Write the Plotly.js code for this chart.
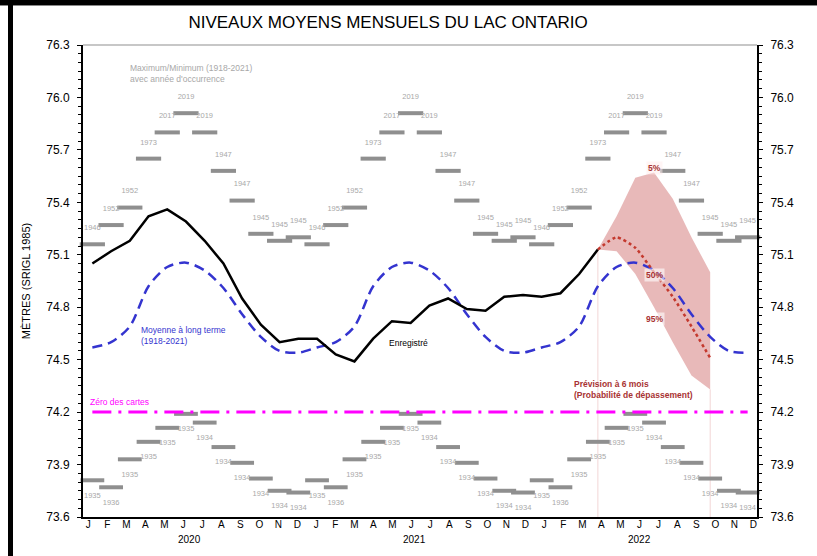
<!DOCTYPE html>
<html>
<head>
<meta charset="utf-8">
<script src="https://cdn.plot.ly/plotly-3.0.1.min.js"></script>
<style>
  html, body { margin: 0; padding: 0; background: #fff; }
  #wrap { position: relative; width: 817px; height: 556px; overflow: hidden; }
  #chart { position: absolute; left: 0; top: 0; width: 817px; height: 556px; }
  .topbar { position: absolute; left: 0; top: 0; width: 817px; height: 5px; background: #000; z-index: 5; }
  .topline { position: absolute; left: 0; top: 5px; width: 817px; height: 1px; background: #888; z-index: 5; }
  .leftbar { position: absolute; left: 8px; top: 0; width: 5px; height: 556px; background: #000; z-index: 5; }
</style>
</head>
<body>
<div id="wrap">
  <div id="chart"></div>
  <div class="topbar"></div>
  <div class="topline"></div>
  <div class="leftbar"></div>
</div>
<script>
// ---------------- DATA ----------------
const monthLetters = ['J','F','M','A','M','J','J','A','S','O','N','D'];
const years = ['2020','2021','2022'];

// Recorded monthly mean level (m), Jan 2020 .. Apr 2022
const recorded = [
  75.05, 75.12, 75.18, 75.32, 75.36, 75.29, 75.18, 75.05, 74.85, 74.70, 74.60, 74.62,
  74.62, 74.53, 74.49, 74.62, 74.72, 74.71, 74.81, 74.85, 74.79, 74.78, 74.86, 74.87,
  74.86, 74.88, 74.99, 75.13
];

// Long-term mean (1918-2021), Jan..Dec
const longTermMean = [74.57, 74.60, 74.69, 74.92, 75.03, 75.055, 75.01, 74.91, 74.76, 74.63, 74.55, 74.54];

// Maximum / minimum (1918-2021) with year of occurrence, Jan..Dec
const maxLevel = [75.16, 75.27, 75.37, 75.65, 75.80, 75.91, 75.80, 75.58, 75.41, 75.22, 75.18, 75.20];
const maxYear  = ['1946','1952','1952','1973','2017','2019','2019','1947','1947','1945','1945','1945'];
const minLevel = [73.81, 73.77, 73.93, 74.03, 74.11, 74.19, 74.14, 74.00, 73.91, 73.82, 73.75, 73.74];
const minYear  = ['1935','1936','1935','1935','1935','1935','1934','1934','1934','1934','1934','1934'];

// 6-month forecast (exceedance probability), Apr 2022 .. Oct 2022
const forecastMonths = ['2022-04','2022-05','2022-06','2022-07','2022-08','2022-09','2022-10'];
const forecast5  = [75.13, 75.32, 75.54, 75.57, 75.42, 75.20, 75.00];
const forecast50 = [75.13, 75.20, 75.14, 75.00, 74.86, 74.69, 74.51];
const forecast95 = [75.13, 75.12, 74.99, 74.80, 74.60, 74.41, 74.33];

// Chart datum
const chartDatum = 74.2;

// ---------------- BUILD ----------------
const monthKeys = [];
years.forEach(y => { for (let m = 1; m <= 12; m++) monthKeys.push(y + '-' + String(m).padStart(2, '0')); });
const idx = monthKeys.map((_, i) => i);
const fIdx = forecastMonths.map(k => monthKeys.indexOf(k));
const yMin = 73.6, yMax = 76.3;

const rep = arr => years.flatMap(() => arr);

const grayBar = '#8f8f8f';
const grayTxt = '#a8a8a8';
const font = 'Liberation Sans, Arial, sans-serif';

const traces = [];

// forecast band
traces.push({ x: fIdx, y: forecast95, mode: 'lines', line: { width: 0, color: 'rgba(0,0,0,0)' },
  hoverinfo: 'skip', showlegend: false });
traces.push({ x: fIdx, y: forecast5, mode: 'lines', line: { width: 0, color: 'rgba(0,0,0,0)' },
  fill: 'tonexty', fillcolor: 'rgba(214,128,128,0.55)', hoverinfo: 'skip', showlegend: false });

// faint vertical lines at the start / end of the forecast period
const first = 0, last = fIdx.length - 1;
traces.push({ x: [fIdx[first], fIdx[first], null, fIdx[last], fIdx[last]],
  y: [forecast95[first], yMin, null, forecast95[last], yMin],
  mode: 'lines', line: { color: '#f2d6d6', width: 1 }, hoverinfo: 'skip', showlegend: false });

// long-term mean
traces.push({ x: idx, y: rep(longTermMean), mode: 'lines',
  line: { color: '#3434cf', width: 2.5, dash: '10px,6px', shape: 'spline', smoothing: 0.8 },
  showlegend: false });

// recorded
traces.push({ x: idx.slice(0, recorded.length), y: recorded, mode: 'lines',
  line: { color: '#000', width: 2.5 }, showlegend: false });

// 50% forecast
traces.push({ x: fIdx, y: forecast50, mode: 'lines',
  line: { color: '#c4392e', width: 2.5, dash: 'dot', shape: 'spline', smoothing: 0.6 }, showlegend: false });

// max / min bars with years
traces.push({ x: idx, y: rep(maxLevel), mode: 'markers+text', text: rep(maxYear),
  textposition: 'top center', textfont: { size: 7.5, color: grayTxt, family: font },
  marker: { symbol: 'line-ew', size: 18, line: { width: 4, color: grayBar } },
  cliponaxis: false, showlegend: false });
traces.push({ x: idx, y: rep(minLevel), mode: 'markers+text', text: rep(minYear),
  textposition: 'bottom center', textfont: { size: 7.5, color: grayTxt, family: font },
  marker: { symbol: 'line-ew', size: 17, line: { width: 4, color: grayBar } },
  cliponaxis: false, showlegend: false });

// chart datum
traces.push({ x: [idx[0], idx[idx.length - 1]], y: [chartDatum, chartDatum], mode: 'lines',
  line: { color: '#ff00ff', width: 3, dash: '19px,7px,3px,7px' }, showlegend: false });

// invisible trace on the secondary axes (right value axis, month-label axis)
traces.push({ x: [idx[0]], y: [yMin], xaxis: 'x2', yaxis: 'y2', mode: 'markers', marker: { opacity: 0 },
  hoverinfo: 'skip', showlegend: false });

const yAxisCommon = {
  range: [yMin, yMax], tick0: yMin, dtick: 0.3, tickformat: '.1f',
  ticks: 'outside', ticklen: 4, tickwidth: 1, tickcolor: '#000',
  showline: true, linecolor: '#000', linewidth: 2,
  showgrid: false, zeroline: false,
  tickfont: { size: 12, color: '#000', family: font },
  minor: { dtick: 0.05, tick0: yMin, ticks: 'outside', ticklen: 3, tickcolor: '#000', tickwidth: 1, showgrid: false },
  ticklabelstandoff: 5
};

const annotations = [
  { x: 1.92, y: 76.138, xref: 'x', yref: 'y', xanchor: 'left', yanchor: 'middle', align: 'left',
    text: 'Maximum/Minimum (1918-2021)<br>avec année d\'occurrence', showarrow: false,
    font: { size: 8.5, color: grayTxt, family: font } },
  { x: 2.5, y: 74.64, xref: 'x', yref: 'y', xanchor: 'left', yanchor: 'middle', align: 'left',
    text: 'Moyenne à long terme<br>(1918-2021)', showarrow: false,
    font: { size: 8.5, color: '#3434cf', family: font } },
  { x: 16.91, y: 74.594, xref: 'x', yref: 'y', xanchor: 'center', yanchor: 'middle',
    text: 'Enregistré', showarrow: false, font: { size: 8.5, color: '#000', family: font } },
  { x: -0.22, y: 74.258, xref: 'x', yref: 'y', xanchor: 'left', yanchor: 'middle',
    text: 'Zéro des cartes', showarrow: false, font: { size: 8.5, color: '#ff00ff', family: font } },
  { x: 25.6, y: 74.327, xref: 'x', yref: 'y', xanchor: 'left', yanchor: 'middle', align: 'left',
    text: '<b>Prévision à 6 mois<br>(Probabilité de dépassement)</b>', showarrow: false,
    font: { size: 8.5, color: '#a83232', family: font } },
  { x: 30.02, y: 75.598, xref: 'x', yref: 'y', text: '<b>5%</b>', showarrow: false,
    bgcolor: 'rgba(255,235,235,0.5)', borderpad: 1, font: { size: 8.5, color: '#a83232', family: font } },
  { x: 30.05, y: 74.984, xref: 'x', yref: 'y', text: '<b>50%</b>', showarrow: false,
    bgcolor: 'rgba(255,255,255,0.6)', borderpad: 1, font: { size: 8.5, color: '#a83232', family: font } },
  { x: 30.05, y: 74.733, xref: 'x', yref: 'y', text: '<b>95%</b>', showarrow: false,
    bgcolor: 'rgba(255,255,255,0.6)', borderpad: 1, font: { size: 8.5, color: '#a83232', family: font } }
];
years.forEach((y, i) => {
  annotations.push({ x: i * 12 + 5.2, y: 0, xref: 'x', yref: 'paper', yshift: -22, yanchor: 'middle',
    text: y, showarrow: false, font: { size: 10, color: '#000', family: font } });
});

const layout = {
  width: 817, height: 556,
  margin: { l: 83, r: 60, t: 45, b: 39 },
  paper_bgcolor: '#fff', plot_bgcolor: '#fff',
  font: { family: font, color: '#000' },
  title: { text: 'NIVEAUX MOYENS MENSUELS DU LAC ONTARIO', x: 0.475, xref: 'container', xanchor: 'center',
    y: 0.96, yref: 'container', yanchor: 'middle', font: { size: 17, color: '#000', family: font } },
  xaxis: {
    range: [-0.5, 35.5], showticklabels: false, ticks: '',
    showline: true, linecolor: '#000', linewidth: 2, showgrid: false, zeroline: false
  },
  // month-letter axis (labels are spaced slightly wider than the data columns in the original)
  xaxis2: {
    overlaying: 'x', side: 'bottom', anchor: 'y',
    range: [-0.28, 35.19], tickvals: idx, ticktext: rep(monthLetters), ticks: '',
    showline: false, showgrid: false, zeroline: false,
    tickfont: { size: 10, color: '#000', family: font }, ticklabelstandoff: 0
  },
  yaxis: Object.assign({}, yAxisCommon, {
    title: { text: 'MÈTRES (SRIGL 1985)', font: { size: 11, color: '#000', family: font }, standoff: 13 }
  }),
  yaxis2: Object.assign({}, yAxisCommon, { overlaying: 'y', side: 'right', anchor: 'x' }),
  shapes: [
    { type: 'line', xref: 'paper', yref: 'paper', x0: 0, x1: 1, y0: 1, y1: 1,
      line: { color: '#b4b4b4', width: 1.5 } }
  ],
  annotations: annotations,
  showlegend: false
};

Plotly.newPlot('chart', traces, layout, { displayModeBar: false, staticPlot: true });
</script>
</body>
</html>
